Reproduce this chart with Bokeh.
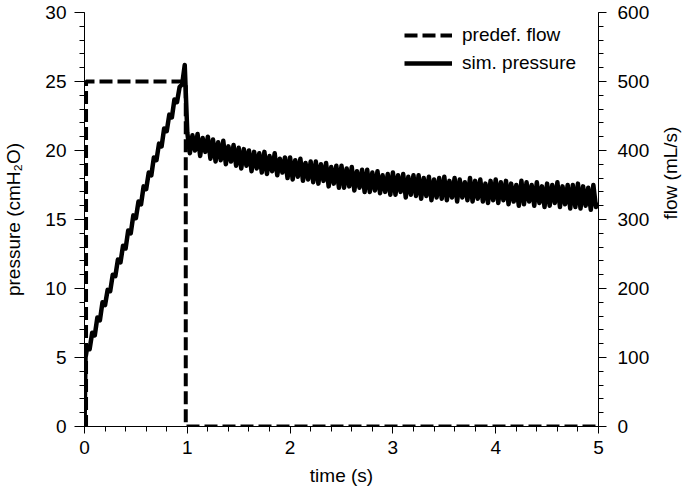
import numpy as np
from bokeh.plotting import figure
from bokeh.models import (Range1d, LinearAxis, SingleIntervalTicker, Legend, LegendItem)
from bokeh.embed import file_html
from bokeh.resources import INLINE

# ---------------- data ----------------
# predefined flow (mL/s), square pulse
flow_time = [0.0, 0.015, 0.015, 0.985, 0.985, 5.0]
flow_value = [0, 0, 500, 500, 0, 0]

# simulated pressure (cmH2O)
pressure_start_time = [0.0, 0.01]
pressure_start = [0.0, 5.0]
sample_step = 0.025  # s, sampling of the read-off values

# inspiration (t = 0.025 ... 0.975)
pressure_rise = [5.7, 5.6, 6.8, 6.6, 7.9, 7.7, 9.0, 8.8, 9.9, 9.8,
                 11.0, 10.9, 12.1, 11.9, 13.1, 12.9, 14.2, 14.0, 15.3, 15.1,
                 16.3, 16.1, 17.4, 17.2, 18.4, 18.2, 19.5, 19.3, 20.5, 20.3,
                 21.6, 21.4, 22.6, 22.4, 23.7, 23.5, 24.6, 24.8, 26.2]

# expiration (t = 1.0 ... 5.0)
pressure_decay = [
    21.3, 19.8, 21.1, 20.0, 21.2, 19.6, 20.9, 19.9, 21.0, 19.4,
    20.8, 19.2, 20.6, 19.3, 20.7, 19.0, 20.3, 19.2, 20.4, 18.9,
    20.2, 18.7, 20.1, 18.9, 20.0, 18.5, 19.9, 18.7, 19.8, 18.4,
    19.9, 18.3, 19.6, 18.5, 19.8, 18.2, 19.4, 18.4, 19.5, 18.0,
    19.5, 17.9, 19.3, 18.1, 19.4, 17.8, 19.1, 17.9, 19.2, 17.7,
    19.2, 17.6, 19.0, 17.8, 19.1, 17.4, 18.8, 17.6, 18.9, 17.3,
    18.9, 17.3, 18.7, 17.4, 18.8, 17.1, 18.5, 17.3, 18.6, 17.0,
    18.6, 17.0, 18.4, 17.1, 18.5, 16.9, 18.2, 17.0, 18.3, 16.8,
    18.4, 16.8, 18.2, 17.0, 18.3, 16.6, 18.1, 16.8, 18.2, 16.7,
    18.2, 16.5, 18.0, 16.7, 18.1, 16.4, 17.9, 16.6, 18.0, 16.5,
    18.1, 16.4, 17.8, 16.6, 18.0, 16.3, 17.9, 16.6, 17.7, 16.4,
    18.0, 16.3, 17.8, 16.5, 17.9, 16.3, 17.6, 16.2, 17.8, 16.4,
    17.9, 16.2, 17.7, 16.4, 17.8, 16.1, 17.6, 16.3, 17.5, 16.0,
    17.8, 16.1, 17.7, 16.3, 17.5, 16.0, 17.7, 16.2, 17.4, 15.9,
    17.6, 16.0, 17.5, 16.2, 17.7, 15.9, 17.4, 16.1, 17.5, 15.8,
    17.5, 15.9, 17.6, 15.8, 17.4, 16.0, 17.3, 15.7, 17.5, 15.9,
    16.2]

x_ticks_interval = 1
pressure_ticks_interval = 5
flow_ticks_interval = 100

# build time base for the read-off samples
n_samples = len(pressure_rise) + len(pressure_decay)
pressure_time = pressure_start_time + list(np.round(sample_step * np.arange(1, n_samples + 1), 4))
pressure_value = pressure_start + pressure_rise + pressure_decay

# ---------------- figure ----------------
FONT = "Liberation Sans"
TICK_SIZE = "19px"
LABEL_SIZE = "19px"

p = figure(frame_width=514, frame_height=414,
           x_range=Range1d(0, 5), y_range=Range1d(0, 30),
           output_backend="svg", toolbar_location=None,
           min_border_left=84, min_border_right=87,
           min_border_top=12, min_border_bottom=68,
           x_axis_location=None, y_axis_location=None)
p.extra_y_ranges = {"flow": Range1d(0, 600)}
p.outline_line_color = None
p.xgrid.visible = False
p.ygrid.visible = False
p.background_fill_color = "white"
p.border_fill_color = "white"


def style_axis(ax, tick_out, minor_out, standoff):
    ax.axis_line_color = "black"
    ax.axis_line_width = 1
    ax.major_tick_line_color = "black"
    ax.minor_tick_line_color = "black"
    ax.major_tick_in = 0
    ax.major_tick_out = tick_out
    ax.minor_tick_in = 0
    ax.minor_tick_out = minor_out
    ax.major_label_text_font = FONT
    ax.major_label_text_font_size = TICK_SIZE
    ax.major_label_text_color = "black"
    ax.major_label_standoff = standoff
    ax.axis_label_text_font = FONT
    ax.axis_label_text_font_size = LABEL_SIZE
    ax.axis_label_text_font_style = "normal"
    ax.axis_label_text_color = "black"


xaxis = LinearAxis(axis_label="time (s)",
                   ticker=SingleIntervalTicker(interval=x_ticks_interval, num_minor_ticks=5))
style_axis(xaxis, 7, 5, 7)
xaxis.axis_label_standoff = 8
p.add_layout(xaxis, "below")

yaxis = LinearAxis(axis_label="pressure (cmH\u2082O)",
                   ticker=SingleIntervalTicker(interval=pressure_ticks_interval, num_minor_ticks=5))
style_axis(yaxis, 10, 5, 8)
yaxis.axis_label_standoff = 18
p.add_layout(yaxis, "left")

faxis = LinearAxis(y_range_name="flow", axis_label="flow (mL/s)",
                   ticker=SingleIntervalTicker(interval=flow_ticks_interval, num_minor_ticks=5))
style_axis(faxis, 8, 5, 11)
faxis.axis_label_standoff = 18
faxis.axis_label_orientation = np.pi / 2
p.add_layout(faxis, "right")

r_pressure = p.line(pressure_time, pressure_value, line_color="black",
                    line_width=4.5, line_join="round")
r_flow = p.line(flow_time, flow_value, y_range_name="flow", line_color="black",
                line_width=4, line_dash="13 5")

legend = Legend(items=[LegendItem(label="predef. flow", renderers=[r_flow]),
                       LegendItem(label="sim. pressure", renderers=[r_pressure])],
                location=(320, 352), padding=0, margin=0, spacing=6,
                glyph_width=48, glyph_height=20, label_height=20,
                label_standoff=10, border_line_color=None,
                background_fill_alpha=0,
                label_text_font=FONT, label_text_font_size=LABEL_SIZE,
                label_text_color="black")
p.add_layout(legend, "center")

open("out.html", "w").write(file_html(p, INLINE))
